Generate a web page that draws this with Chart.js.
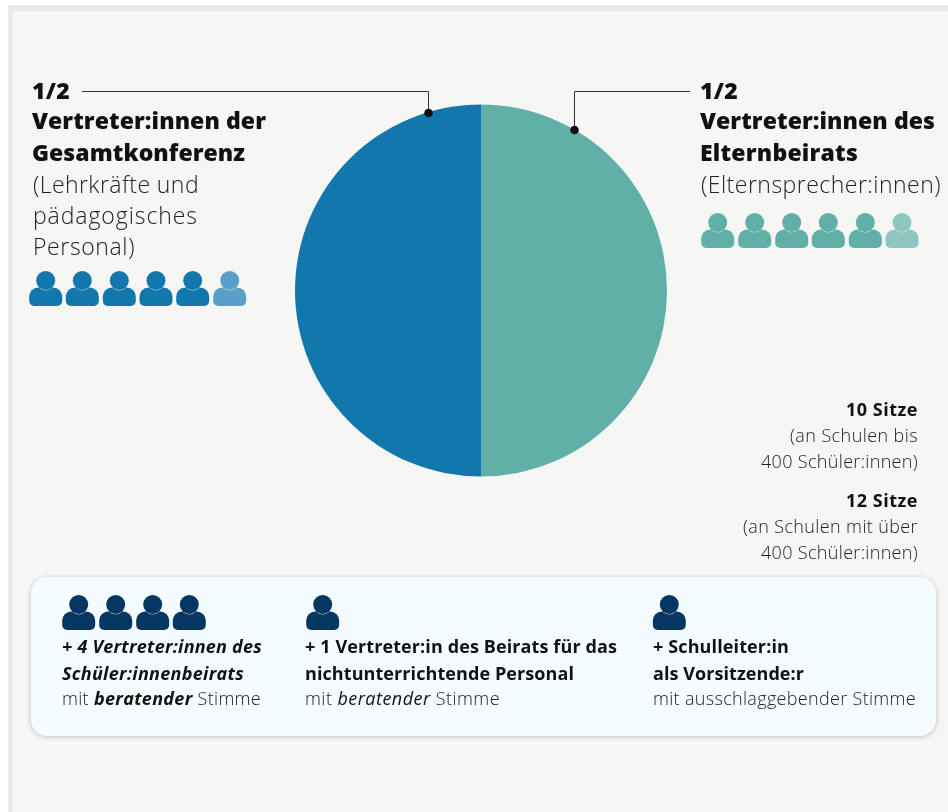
<!DOCTYPE html>
<html><head><meta charset="utf-8">
<style>
html,body{margin:0;padding:0;background:#fff}
#wrap{position:relative;width:948px;height:812px;overflow:hidden}
canvas{position:absolute;left:0;top:0}
</style>
<script src="https://cdn.jsdelivr.net/npm/chart.js@4"></script>
</head><body>
<div id="wrap"><canvas id="c" width="948" height="812"></canvas></div>
<script>
var categories = ['Vertreter:innen des Elternbeirats', 'Vertreter:innen der Gesamtkonferenz'];
var shares = [1, 1];
var colors = ['#60b0a8', '#1177ad'];

var FONT = '"Open Sans","Noto Sans",sans-serif';
var BOLD = '800 ';
var SEMI = '700 ';
var LIGHT = '300 ';

// every line: x, baseline, width it takes in the picture, text runs [text, font style]
var lines = [
  {x:32,y:99,w:38,s:23,runs:[['1/2',BOLD]]},
  {x:32,y:129,w:234,s:23,runs:[['Vertreter:innen der',BOLD]]},
  {x:32,y:161,w:213,s:23,runs:[['Gesamtkonferenz',BOLD]]},
  {x:33,y:193,w:166,s:23,runs:[['(Lehrkräfte und',LIGHT]]},
  {x:33,y:224,w:165,s:23,runs:[['pädagogisches',LIGHT]]},
  {x:33,y:255,w:102,s:23,runs:[['Personal)',LIGHT]]},
  {x:700,y:99,w:38,s:23,runs:[['1/2',BOLD]]},
  {x:700,y:129,w:235,s:23,runs:[['Vertreter:innen des',BOLD]]},
  {x:700,y:161,w:158,s:23,runs:[['Elternbeirats',BOLD]]},
  {x:701,y:193,w:240,s:23,runs:[['(Elternsprecher:innen)',LIGHT]]},
  {x:846,y:416,w:72,s:18,runs:[['10 Sitze',SEMI]]},
  {x:790,y:442,w:128,s:18,runs:[['(an Schulen bis',LIGHT]]},
  {x:761,y:468,w:157,s:18,runs:[['400 Schüler:innen)',LIGHT]]},
  {x:846,y:507,w:72,s:18,runs:[['12 Sitze',SEMI]]},
  {x:743,y:533,w:175,s:18,runs:[['(an Schulen mit über',LIGHT]]},
  {x:761,y:559,w:157,s:18,runs:[['400 Schüler:innen)',LIGHT]]},
  {x:62,y:653,w:200,s:18,runs:[['+ 4 Vertreter:innen des','italic '+SEMI]]},
  {x:62,y:680,w:182,s:18,runs:[['Schüler:innenbeirats','italic '+SEMI]]},
  {x:62,y:705,w:199,s:18,runs:[['mit ',LIGHT],['beratender','italic '+SEMI],[' Stimme',LIGHT]]},
  {x:305,y:653,w:312,s:18,runs:[['+ 1 Vertreter:in des Beirats für das',SEMI]]},
  {x:305,y:680,w:269,s:18,runs:[['nichtunterrichtende Personal',SEMI]]},
  {x:305,y:705,w:195,s:18,runs:[['mit ',LIGHT],['beratender','italic 400 '],[' Stimme',LIGHT]]},
  {x:653,y:653,w:136,s:18,runs:[['+ Schulleiter:in',SEMI]]},
  {x:653,y:680,w:151,s:18,runs:[['als Vorsitzende:r',SEMI]]},
  {x:653,y:705,w:263,s:18,runs:[['mit ausschlaggebender Stimme',LIGHT]]}
];
var people = [
  {x:[45.7,82.3,119.3,156,192.7],y:289,c:'#1177ad'},
  {x:[229.7],y:289,c:'#5a9fc6'},
  {x:[717.7,754.7,791.7,828.3,865.3],y:231,c:'#60b0a8'},
  {x:[902],y:231,c:'#90c6c0'},
  {x:[78.7,115.7,152.7,189.3,322.7,669.3],y:613,c:'#063763'}
];

function person(ctx, x, y, col, bg){
  ctx.fillStyle = col;
  ctx.beginPath();
  ctx.roundRect(x-16.5, y-1.5, 33, 18.5, [9,9,5,5]);
  ctx.fill();
  ctx.beginPath();
  ctx.arc(x, y-8.5, 9.5, 0, Math.PI*2);
  ctx.strokeStyle = bg;
  ctx.lineWidth = 0.8;
  ctx.stroke();
  ctx.fill();
}

var background = {
  id:'background',
  beforeDraw:function(chart){
    var ctx = chart.ctx;
    ctx.save();
    ctx.fillStyle = '#ffffff'; ctx.fillRect(0,0,948,812);
    ctx.fillStyle = '#e9eae8'; ctx.fillRect(8,5,940,807);
    ctx.fillStyle = '#f6f6f4'; ctx.fillRect(13,11,935,801);
    ctx.shadowColor = 'rgba(0,0,0,0.22)'; ctx.shadowBlur = 5; ctx.shadowOffsetY = 1;
    ctx.fillStyle = '#f5fcff';
    ctx.beginPath(); ctx.roundRect(31,577,905,159,16); ctx.fill();
    ctx.restore();
  },
  afterDraw:function(chart){
    var ctx = chart.ctx;
    ctx.save();
    // leader lines
    ctx.strokeStyle = '#333'; ctx.lineWidth = 1;
    ctx.beginPath(); ctx.moveTo(82,91.5); ctx.lineTo(428.5,91.5); ctx.lineTo(428.5,113); ctx.stroke();
    ctx.beginPath(); ctx.moveTo(690,91.5); ctx.lineTo(574.5,91.5); ctx.lineTo(574.5,130); ctx.stroke();
    ctx.fillStyle = '#111';
    ctx.beginPath(); ctx.arc(428.5,113,4.3,0,Math.PI*2); ctx.fill();
    ctx.beginPath(); ctx.arc(574.5,130,4.3,0,Math.PI*2); ctx.fill();
    people.forEach(function(g){
      g.x.forEach(function(x){ person(ctx, x, g.y, g.c, g.y > 577 ? '#f5fcff' : '#f6f6f4'); });
    });
    ctx.textBaseline = 'alphabetic';
    ctx.textAlign = 'left';
    lines.forEach(function(l){
      // spread the letters so the line gets the width it has in the picture
      var total = 0, chars = 0;
      ctx.letterSpacing = '0px';
      l.runs.forEach(function(r){
        ctx.font = r[1] + l.s + 'px ' + FONT;
        total += ctx.measureText(r[0]).width;
        chars += r[0].length;
      });
      ctx.letterSpacing = ((l.w - total) / chars) + 'px';
      var x = l.x;
      l.runs.forEach(function(r){
        ctx.font = r[1] + l.s + 'px ' + FONT;
        ctx.fillStyle = r[1].indexOf('300') >= 0 ? '#222' : '#111';
        ctx.fillText(r[0], x, l.y);
        x += ctx.measureText(r[0]).width;
      });
    });
    ctx.restore();
  }
};

new Chart(document.getElementById('c').getContext('2d'), {
  type:'pie',
  data:{labels:categories,datasets:[{data:shares,backgroundColor:colors,borderWidth:0}]},
  options:{
    responsive:false,animation:false,
    layout:{padding:{left:295,top:104,right:948-667,bottom:812-477}},
    plugins:{legend:{display:false},tooltip:{enabled:false}}
  },
  plugins:[background]
});
</script>
</body></html>
